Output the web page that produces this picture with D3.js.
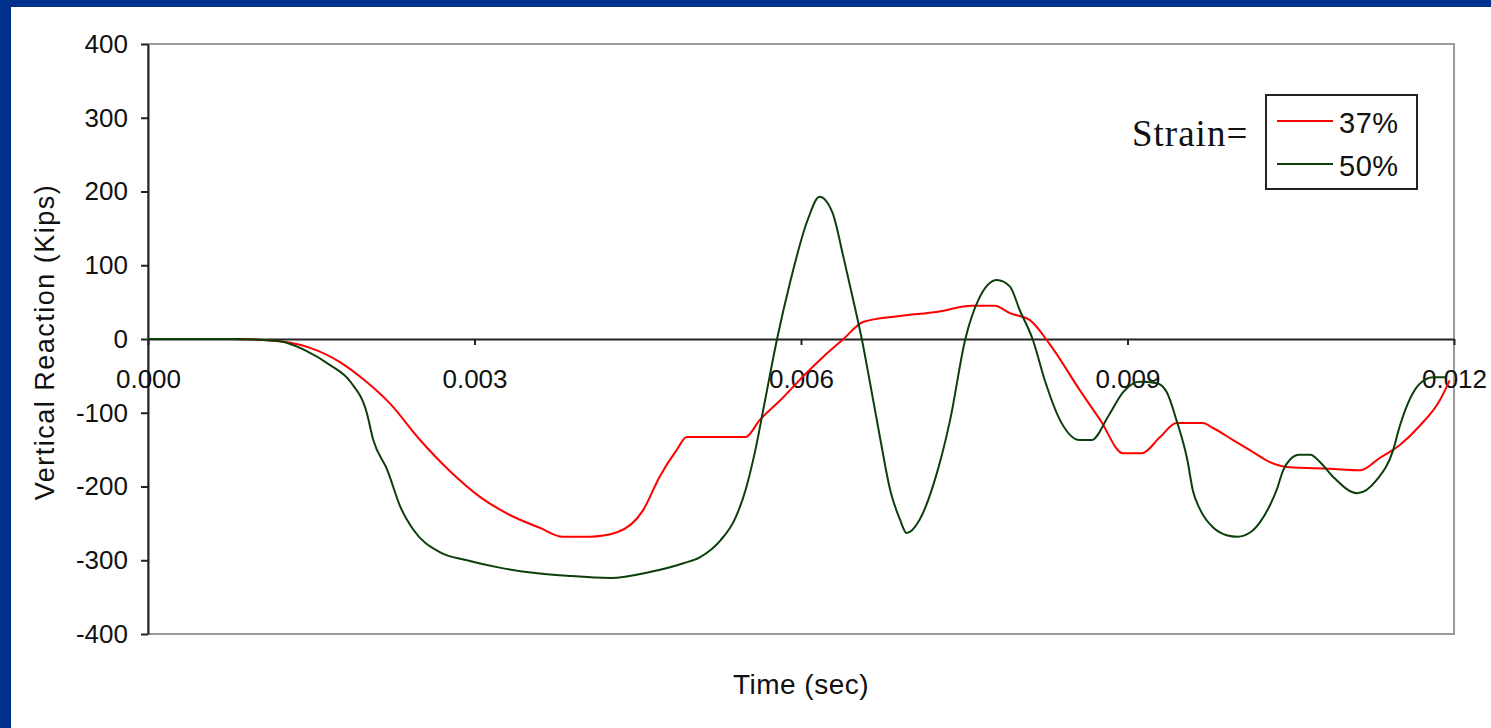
<!DOCTYPE html>
<html>
<head>
<meta charset="utf-8">
<title></title>
<style>
  body { margin: 0; background: #fff; }
  text { font-family: "Liberation Sans", Arial, sans-serif; fill: #111; }
  .axis path, .axis line { stroke: #222; stroke-width: 2px; }
  .axis text { font-size: 26px; }
</style>
</head>
<body>
<script src="https://cdn.jsdelivr.net/npm/d3@7"></script>
<script>
// time (sec) and vertical reaction (kips)
var time37  = [0, 0.00078, 0.00121, 0.00149, 0.00176, 0.00199, 0.00222, 0.00250, 0.00278, 0.00305,
               0.00333, 0.00360, 0.00381, 0.00406, 0.00431, 0.00455, 0.00470, 0.00486, 0.00495, 0.00549,
               0.00562, 0.00581, 0.00605, 0.00622, 0.00639, 0.00657, 0.00689, 0.00726, 0.00757, 0.00778,
               0.00792, 0.00810, 0.00829, 0.00856, 0.00875, 0.00896, 0.00913, 0.00930, 0.00945, 0.00969,
               0.00979, 0.00997, 0.01015, 0.01031, 0.01049, 0.01086, 0.01114, 0.01132, 0.01150, 0.01169,
               0.01187, 0.01196];
var force37 = [0, 0, -3, -12, -31, -56, -87, -137, -180, -214,
               -239, -256, -268, -268, -262, -232, -187, -150, -133, -133,
               -110, -83, -46, -22, 0, 23, 31, 37, 45, 45,
               35, 26, -8, -69, -110, -155, -155, -133, -114, -114,
               -121, -137, -153, -167, -174, -176, -178, -161, -144, -117,
               -83, -56];

var time50  = [0, 0.00078, 0.00121, 0.00144, 0.00167, 0.00186, 0.00201, 0.00207, 0.00220, 0.00232,
               0.00244, 0.00268, 0.00293, 0.00323, 0.00354, 0.00385, 0.00425, 0.00461, 0.00492, 0.00507,
               0.00526, 0.00539, 0.00549, 0.00558, 0.00567, 0.00578, 0.00590, 0.00606, 0.00617, 0.00629,
               0.00639, 0.00648, 0.00656, 0.00663, 0.00673, 0.00682, 0.00691, 0.00697, 0.00709, 0.00723,
               0.00737, 0.00751, 0.00763, 0.00780, 0.00792, 0.00801, 0.00813, 0.00824, 0.00838, 0.00856,
               0.00867, 0.00883, 0.00896, 0.00911, 0.00927, 0.00936, 0.00945, 0.00955, 0.00960, 0.00967,
               0.00979, 0.00991, 0.01001, 0.01013, 0.01022, 0.01031, 0.01037, 0.01043, 0.01049, 0.01058,
               0.01068, 0.01077, 0.01089, 0.01111, 0.01129, 0.01144, 0.01150, 0.01169, 0.01181, 0.01192];
var force50 = [0, 0, -3, -15, -35, -58, -100, -137, -178, -228,
               -259, -289, -300, -310, -317, -321, -324, -316, -304, -296,
               -273, -245, -205, -151, -83, 0, 77, 161, 193, 171,
               111, 53, -1, -56, -137, -205, -245, -263, -245, -191,
               -110, 0, 53, 80, 71, 39, -1, -56, -110, -137,
               -137, -103, -72, -58, -60, -72, -110, -164, -205, -232,
               -256, -266, -268, -262, -248, -225, -205, -178, -164, -157,
               -157, -167, -187, -209, -191, -151, -119, -60, -52, -52];

var xTicks = [0, 0.003, 0.006, 0.009, 0.012];
var yTicks = [-400, -300, -200, -100, 0, 100, 200, 300, 400];
var seriesNames = ["37%", "50%"];
var seriesColors = ["#ff0000", "#0b3f0b"];

var width = 1491, height = 728;

var svg = d3.select("body").append("svg")
    .attr("width", width)
    .attr("height", height);

// blue slide frame
svg.append("rect").attr("x", 0).attr("y", 0).attr("width", width).attr("height", 7).attr("fill", "#00318c");
svg.append("rect").attr("x", 0).attr("y", 0).attr("width", 11).attr("height", height).attr("fill", "#00318c");

var x = d3.scaleLinear().domain([0, 0.012]).range([148, 1454]);
var y = d3.scaleLinear().domain([-400, 400]).range([634, 44]);

// plot area border
svg.append("rect")
    .attr("x", x(0)).attr("y", y(400))
    .attr("width", x(0.012) - x(0)).attr("height", y(-400) - y(400))
    .attr("fill", "none").attr("stroke", "#9a9a9a").attr("stroke-width", 2);

svg.append("g")
    .attr("class", "axis")
    .attr("transform", "translate(" + x(0) + ",0)")
    .call(d3.axisLeft(y).tickValues(yTicks).tickSize(7).tickSizeOuter(0).tickPadding(13)
        .tickFormat(function(d){ return String(d); }));

svg.append("g")
    .attr("class", "axis")
    .attr("transform", "translate(0," + y(0) + ")")
    .call(d3.axisBottom(x).tickValues(xTicks).tickSize(6).tickSizeOuter(0).tickPadding(25)
        .tickFormat(d3.format(".3f")));

var line = d3.line()
    .x(function(d){ return x(d[0]); })
    .y(function(d){ return y(d[1]); })
    .curve(d3.curveMonotoneX);

var series = [d3.zip(time37, force37), d3.zip(time50, force50)];

svg.append("g").selectAll("path")
    .data(series)
    .enter()
    .append("path")
    .attr("fill", "none")
    .attr("stroke", function(d, i){ return seriesColors[i]; })
    .attr("stroke-width", 2)
    .attr("d", line);

// axis titles
svg.append("text")
    .attr("transform", "translate(54,342) rotate(-90)")
    .attr("text-anchor", "middle")
    .attr("font-size", "27px")
    .attr("letter-spacing", "1.5px")
    .text("Vertical Reaction (Kips)");

svg.append("text")
    .attr("x", 801).attr("y", 694)
    .attr("text-anchor", "middle")
    .attr("font-size", "28px")
    .attr("letter-spacing", "0.5px")
    .text("Time (sec)");

// legend
svg.append("text")
    .attr("x", 1132).attr("y", 146)
    .attr("font-size", "37px")
    .attr("letter-spacing", "1px")
    .style("font-family", "'Liberation Serif', 'Times New Roman', serif")
    .text("Strain=");

var legend = svg.append("g").attr("transform", "translate(1266,95)");
legend.append("rect")
    .attr("width", 151).attr("height", 94)
    .attr("fill", "#fff").attr("stroke", "#222").attr("stroke-width", 2);

var items = legend.selectAll(".item")
    .data(seriesNames)
    .enter()
    .append("g")
    .attr("class", "item")
    .attr("transform", function(d, i){ return "translate(0," + (26 + i * 43) + ")"; });
items.append("line")
    .attr("x1", 11).attr("x2", 67)
    .attr("stroke", function(d, i){ return seriesColors[i]; })
    .attr("stroke-width", 2);
items.append("text")
    .attr("x", 73).attr("y", 12)
    .attr("font-size", "29px")
    .attr("letter-spacing", "0.5px")
    .text(function(d){ return d; });
</script>
</body>
</html>
